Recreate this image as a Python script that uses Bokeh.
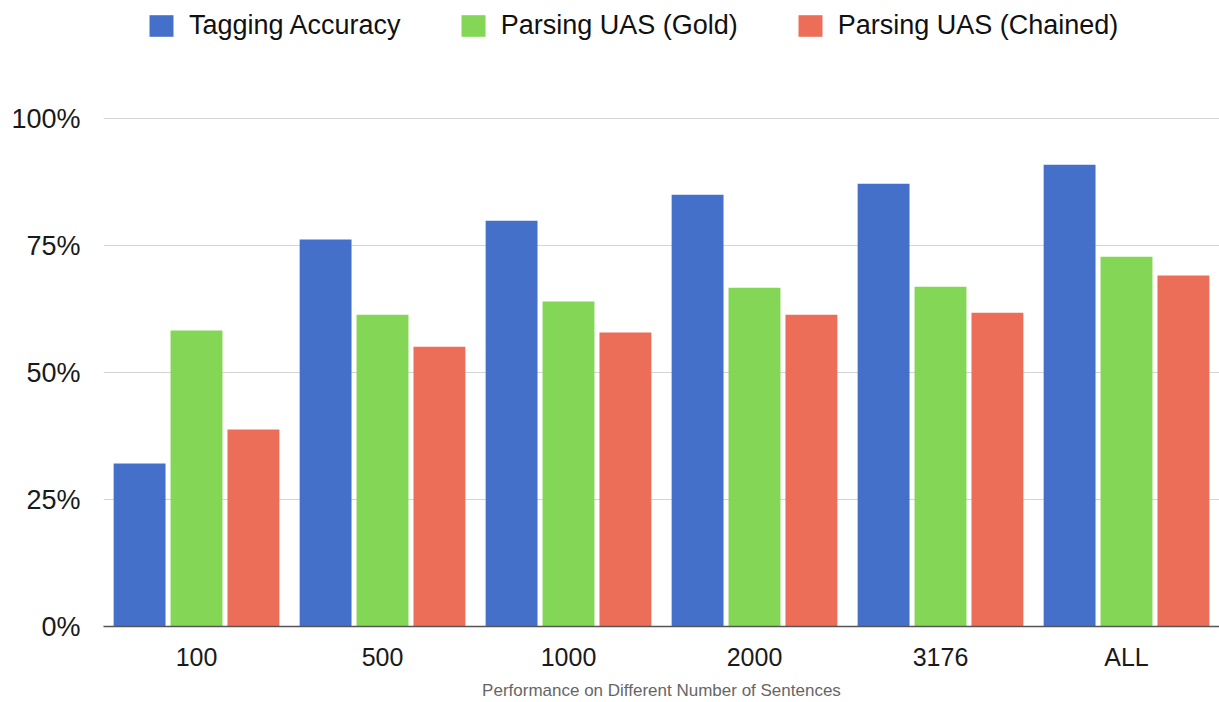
from bokeh.plotting import figure
from bokeh.layouts import column
from bokeh.models import (ColumnDataSource, FactorRange, Range1d, FixedTicker,
                          NumeralTickFormatter, Legend, LegendItem)
from bokeh.transform import dodge
from bokeh.embed import file_html
from bokeh.resources import INLINE

categories = ["100", "500", "1000", "2000", "3176", "ALL"]
tagging_accuracy = [0.321, 0.762, 0.799, 0.850, 0.872, 0.909]
parsing_uas_gold = [0.583, 0.614, 0.640, 0.667, 0.669, 0.728]
parsing_uas_chained = [0.388, 0.551, 0.579, 0.614, 0.618, 0.691]
series_names = ["Tagging Accuracy", "Parsing UAS (Gold)", "Parsing UAS (Chained)"]
colors = ["#4470CA", "#83D656", "#EC6E59"]
y_ticks = [0, 0.25, 0.5, 0.75, 1.0]

src = ColumnDataSource(dict(cat=categories, t=tagging_accuracy,
                            g=parsing_uas_gold, c=parsing_uas_chained))

FONT = "Liberation Sans"
TOP_H = 50

p = figure(width=1219, height=702 - TOP_H, x_range=FactorRange(*categories, range_padding=0),
           y_range=Range1d(0, 1.02), output_backend="svg", toolbar_location=None,
           min_border_left=103, min_border_right=0, min_border_top=108 - TOP_H,
           min_border_bottom=76)
p.outline_line_color = None
p.background_fill_color = "white"

renderers = []
for key, off, col in zip(["t", "g", "c"], [-0.306, 0.0, 0.306], colors):
    r = p.vbar(x=dodge("cat", off, range=p.x_range), top=key, width=0.279,
               source=src, fill_color=col, line_color=None)
    renderers.append(r)

p.xgrid.visible = False
p.ygrid.ticker = FixedTicker(ticks=y_ticks)
p.ygrid.grid_line_color = "#d4d4d4"
p.ygrid.grid_line_width = 1

p.yaxis.ticker = FixedTicker(ticks=y_ticks)
p.yaxis.formatter = NumeralTickFormatter(format="0%")
p.yaxis.axis_line_color = None
p.yaxis.major_tick_line_color = None
p.yaxis.minor_tick_line_color = None
p.yaxis.major_label_text_font = FONT
p.yaxis.major_label_text_font_size = "27px"
p.yaxis.major_label_text_color = "#1a1a1a"
p.yaxis.major_label_standoff = 17

p.xaxis.axis_line_color = "#555555"
p.xaxis.axis_line_width = 1.5
p.xaxis.major_tick_line_color = None
p.xaxis.minor_tick_line_color = None
p.xaxis.major_label_text_font = FONT
p.xaxis.major_label_text_font_size = "25px"
p.xaxis.major_label_text_color = "#1a1a1a"
p.xaxis.major_label_standoff = 10
p.xaxis.axis_label = "Performance on Different Number of Sentences"
p.xaxis.axis_label_text_font = FONT
p.xaxis.axis_label_text_font_size = "17px"
p.xaxis.axis_label_text_font_style = "normal"
p.xaxis.axis_label_text_color = "#666666"
p.xaxis.axis_label_standoff = 7

# legend strip above the chart
top = figure(width=1219, height=TOP_H, x_range=Range1d(0, 1), y_range=Range1d(0, 1),
             output_backend="svg", toolbar_location=None, x_axis_type=None,
             y_axis_type=None, min_border=0)
top.outline_line_color = None
top.grid.visible = False
dummies = [top.vbar(x=[5], top=[5], width=0.1, fill_color=c, line_color=None) for c in colors]
legend = Legend(items=[LegendItem(label=n, renderers=[r]) for n, r in zip(series_names, dummies)],
                orientation="horizontal", location=(43, 9),
                padding=0, margin=0, spacing=57, label_standoff=13,
                glyph_width=30, glyph_height=27,
                label_text_font=FONT, label_text_font_size="27px",
                label_text_color="#111111",
                border_line_color=None, background_fill_alpha=0)
top.add_layout(legend, "center")

layout = column(top, p, spacing=0)
open("out.html", "w").write(file_html(layout, INLINE))
